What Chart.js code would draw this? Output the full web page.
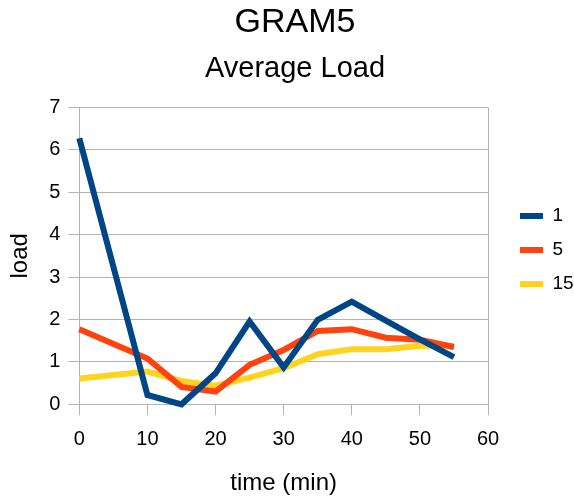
<!DOCTYPE html>
<html>
<head>
<meta charset="utf-8">
<script src="https://cdn.jsdelivr.net/npm/chart.js@4"></script>
<style>
  body { margin: 0; background: #fff; }
  #wrap { width: 574px; height: 500px; }
</style>
</head>
<body>
<div id="wrap"><canvas id="chart"></canvas></div>
<script>
// values
const times = [0, 10, 15, 20, 25, 30, 35, 40, 45, 50, 55];
const load1 = [6.27, 0.22, 0, 0.73, 1.95, 0.87, 1.99, 2.42, 1.97, 1.53, 1.11];
const load5 = [1.77, 1.08, 0.41, 0.30, 0.93, 1.28, 1.73, 1.77, 1.57, 1.52, 1.35];
const load15 = [0.61, 0.77, 0.55, 0.44, 0.63, 0.85, 1.18, 1.30, 1.30, 1.38, 1.38];
const seriesNames = ['1', '5', '15'];
const xTicks = [0, 10, 20, 30, 40, 50, 60];
const yTicks = [0, 1, 2, 3, 4, 5, 6, 7];

const FONT = '"Liberation Sans", Arial, sans-serif';
const GRID = '#b3b3b3';

function points(values) {
    return values.map((v, i) => ({ x: times[i], y: v }));
}

function lineSet(label, values, color) {
    return {
        label: label,
        data: points(values),
        borderColor: color,
        backgroundColor: color,
        borderWidth: 6,
        borderJoinStyle: 'miter',
        borderCapStyle: 'butt',
        pointRadius: 0,
        pointHoverRadius: 0,
        tension: 0,
        fill: false,
        clip: false
    };
}

const ctx = document.getElementById('chart').getContext('2d');
new Chart(ctx, {
    type: 'line',
    data: {
        datasets: [
            lineSet(seriesNames[0], load1, '#004586'),
            lineSet(seriesNames[1], load5, '#ff420e'),
            lineSet(seriesNames[2], load15, '#ffd320')
        ]
    },
    options: {
        responsive: true,
        maintainAspectRatio: false,
        animation: false,
        layout: { padding: { left: 16, right: 0, top: 0, bottom: 0 } },
        plugins: {
            title: {
                display: true,
                text: 'GRAM5',
                color: '#000',
                font: { family: FONT, size: 34, weight: 'normal' },
                padding: { top: 2, bottom: 0 }
            },
            subtitle: {
                display: true,
                text: 'Average Load',
                color: '#000',
                font: { family: FONT, size: 29, weight: 'normal' },
                padding: { top: 8.3, bottom: 21.4 }
            },
            legend: {
                position: 'right',
                maxWidth: 69,
                labels: {
                    color: '#000',
                    font: { family: FONT, size: 19 },
                    boxWidth: 23,
                    boxHeight: 6,
                    padding: 15,
                    generateLabels: function(chart) {
                        // plain filled swatches, no thick stroke round them
                        return Chart.defaults.plugins.legend.labels.generateLabels(chart).map(item => {
                            item.fillStyle = item.strokeStyle;
                            item.lineWidth = 0;
                            return item;
                        });
                    }
                }
            },
            tooltip: { enabled: false }
        },
        scales: {
            x: {
                type: 'linear',
                min: 0,
                max: 60,
                afterBuildTicks: scale => { scale.ticks = xTicks.map(v => ({ value: v })); },
                afterFit: scale => { scale.height = 95.7; },
                grid: {
                    color: c => (c.tick && (c.tick.value === 0 || c.tick.value === 60)) ? GRID : 'rgba(0,0,0,0)',
                    tickColor: GRID,
                    tickLength: 11,
                    lineWidth: 1
                },
                border: { color: GRID },
                ticks: {
                    color: '#000',
                    font: { family: FONT, size: 20 },
                    padding: 11.7,
                    maxRotation: 0
                },
                title: {
                    display: true,
                    text: 'time (min)',
                    color: '#000',
                    font: { family: FONT, size: 24 },
                    padding: { top: 0, bottom: 2 }
                }
            },
            y: {
                min: 0,
                max: 7,
                afterBuildTicks: scale => { scale.ticks = yTicks.map(v => ({ value: v })); },
                afterFit: scale => { scale.width = 63.3; },
                grid: {
                    color: GRID,
                    tickLength: 11,
                    lineWidth: 1
                },
                border: { color: GRID },
                ticks: {
                    color: '#000',
                    font: { family: FONT, size: 20 },
                    padding: 8
                },
                title: {
                    display: true,
                    text: 'load',
                    color: '#000',
                    font: { family: FONT, size: 24 },
                    padding: { top: -10.4, bottom: 0 }
                }
            },
            // empty strip between the plot and the legend
            gap: {
                position: 'right',
                display: true,
                grid: { display: false },
                border: { display: false },
                ticks: { display: false },
                afterFit: scale => { scale.width = 17; }
            }
        }
    }
});
</script>
</body>
</html>
